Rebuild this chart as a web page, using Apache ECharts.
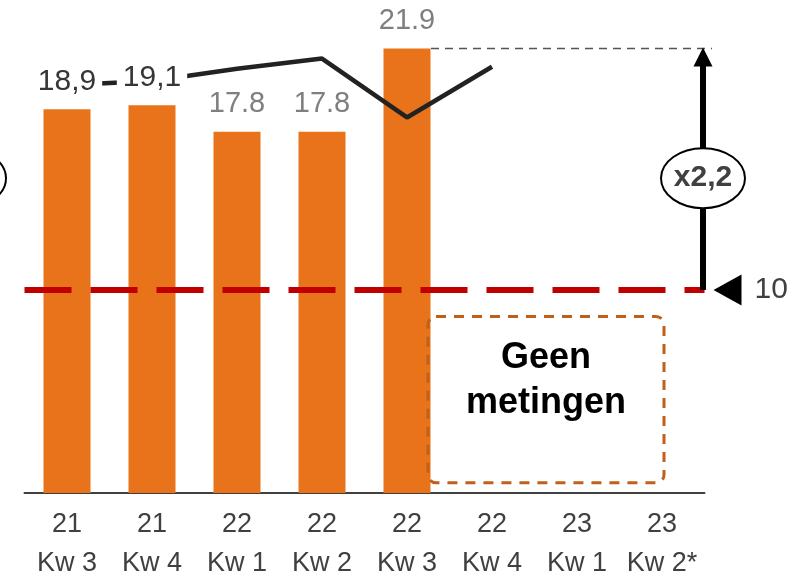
<!DOCTYPE html>
<html>
<head>
<meta charset="utf-8">
<script src="https://cdn.jsdelivr.net/npm/echarts@6/dist/echarts.min.js"></script>
<style>
html,body{margin:0;padding:0;background:#fff;}
#c{width:788px;height:574px;}
</style>
</head>
<body>
<div id="c"></div>
<script>
// ---- data ----
const years    = ['21','21','22','22','22','22','23','23'];
const quarters = ['Kw 3','Kw 4','Kw 1','Kw 2','Kw 3','Kw 4','Kw 1','Kw 2*'];
const barValues  = [18.9, 19.1, 17.8, 17.8, 21.9, null, null, null];
const barLabels  = ['18,9', '19,1', '17.8', '17.8', '21.9', '', '', ''];
const lineValues = [20.1, 20.3, 20.9, 21.4, 18.5, 21.0, null, null];
const thresholdValue = 10;
const thresholdLabel = '10';
const factorLabel = 'x2,2';
const noDataText = 'Geen\nmetingen';

const categories = years.map((y, i) => y + '\n' + quarters[i]);
const FONT = '"Liberation Sans", Arial, sans-serif';

const chart = echarts.init(document.getElementById('c'), null, {renderer: 'canvas'});

const option = {
  animation: false,
  backgroundColor: '#ffffff',
  grid: {left: 24.5, right: 83.5, top: 46.4, bottom: 81, containLabel: false, outerBoundsMode: 'none'},
  xAxis: {
    type: 'category',
    data: categories,
    axisLine: {show: true, lineStyle: {color: '#404040', width: 2}},
    axisTick: {show: false},
    axisLabel: {
      interval: 0, color: '#404040', fontSize: 27, lineHeight: 39,
      fontFamily: FONT, margin: 12
    },
    splitLine: {show: false}
  },
  yAxis: {type: 'value', min: 0, max: 22, show: false},
  series: [
    {
      type: 'bar',
      data: barValues,
      barWidth: 47,
      barGap: '-100%',
      itemStyle: {color: '#e8731a'},
      z: 2
    },
    {
      type: 'line',
      data: lineValues,
      symbol: 'none',
      lineStyle: {color: '#222222', width: 4.5},
      z: 3
    },
    {
      type: 'bar',
      data: barValues,
      barWidth: 47,
      barGap: '-100%',
      itemStyle: {color: 'rgba(0,0,0,0)'},
      z: 4,
      label: {
        show: true,
        position: 'top',
        distance: 13,
        formatter: p => {
          const t = barLabels[p.dataIndex];
          if (!t) return '';
          return (t.indexOf(',') >= 0 ? '{a|' : '{b|') + t + '}';
        },
        rich: {
          a: {fontSize: 30, lineHeight: 29, color: '#363636', fontFamily: FONT,
              backgroundColor: '#ffffff', padding: [0, 6, 0, 6]},
          b: {fontSize: 29, lineHeight: 29, color: '#7f7f7f', fontFamily: FONT}
        }
      },
      markLine: {
        silent: true,
        symbol: 'none',
        label: {show: false},
        lineStyle: {color: '#c00000', width: 6, type: [47, 19]},
        data: [{yAxis: thresholdValue}]
      }
    }
  ]
};
chart.setOption(option);

// ---- annotations positioned from the axes ----
const px = (v) => chart.convertToPixel({yAxisIndex: 0}, v);
const cx = (i) => chart.convertToPixel({xAxisIndex: 0}, i);
const y10 = px(thresholdValue);
const yMax = px(Math.max(...barValues.filter(v => v != null)));
const band = cx(1) - cx(0);
const xEnd = cx(categories.length - 1) + band / 2;
const ax = xEnd - 1.5;
const iMax = barValues.indexOf(Math.max(...barValues.filter(v => v != null)));
const ellY = (y10 + yMax) / 2 + 9;
const firstEmpty = barValues.indexOf(null);

chart.setOption({
  graphic: [
    {type: 'line', shape: {x1: cx(iMax) + 24, y1: yMax, x2: ax + 9, y2: yMax},
     style: {stroke: '#555555', lineWidth: 1.5, lineDash: [8, 6]}, z: 10},
    {type: 'line', shape: {x1: ax, y1: y10, x2: ax, y2: yMax + 17},
     style: {stroke: '#000000', lineWidth: 6}, z: 10},
    {type: 'polygon', shape: {points: [[ax - 9.5, yMax + 18], [ax + 9.5, yMax + 18], [ax, yMax - 1]]},
     style: {fill: '#000000'}, z: 10},
    {type: 'ellipse', shape: {cx: ax, cy: ellY, rx: 42, ry: 30},
     style: {fill: '#ffffff', stroke: '#000000', lineWidth: 2}, z: 11},
    {type: 'text', x: ax, y: ellY, z: 12,
     style: {text: factorLabel, fill: '#404040', font: 'bold 30px ' + FONT, align: 'center', verticalAlign: 'middle'}},
    {type: 'ellipse', shape: {cx: -36, cy: ellY, rx: 42, ry: 30},
     style: {fill: '#ffffff', stroke: '#000000', lineWidth: 2}, z: 11},
    {type: 'polygon', shape: {points: [[xEnd + 9, y10], [xEnd + 37, y10 - 15.5], [xEnd + 37, y10 + 15.5]]},
     style: {fill: '#000000'}, z: 10},
    {type: 'text', x: xEnd + 50, y: y10, z: 10,
     style: {text: thresholdLabel, fill: '#404040', font: '30px ' + FONT, align: 'left', verticalAlign: 'middle'}},
    {type: 'rect', shape: {x: cx(firstEmpty) - 64, y: px(8.7), width: 236, height: px(0.5) - px(8.7), r: 8},
     style: {fill: 'none', stroke: '#c0601a', lineWidth: 3, lineDash: [10, 8]}, z: 10},
    {type: 'text', x: cx(firstEmpty) + 54, y: px(8.7) + 64, z: 10,
     style: {text: noDataText, fill: '#000000', font: 'bold 36px ' + FONT, align: 'center', verticalAlign: 'middle', lineHeight: 45}}
  ]
});
</script>
</body>
</html>
